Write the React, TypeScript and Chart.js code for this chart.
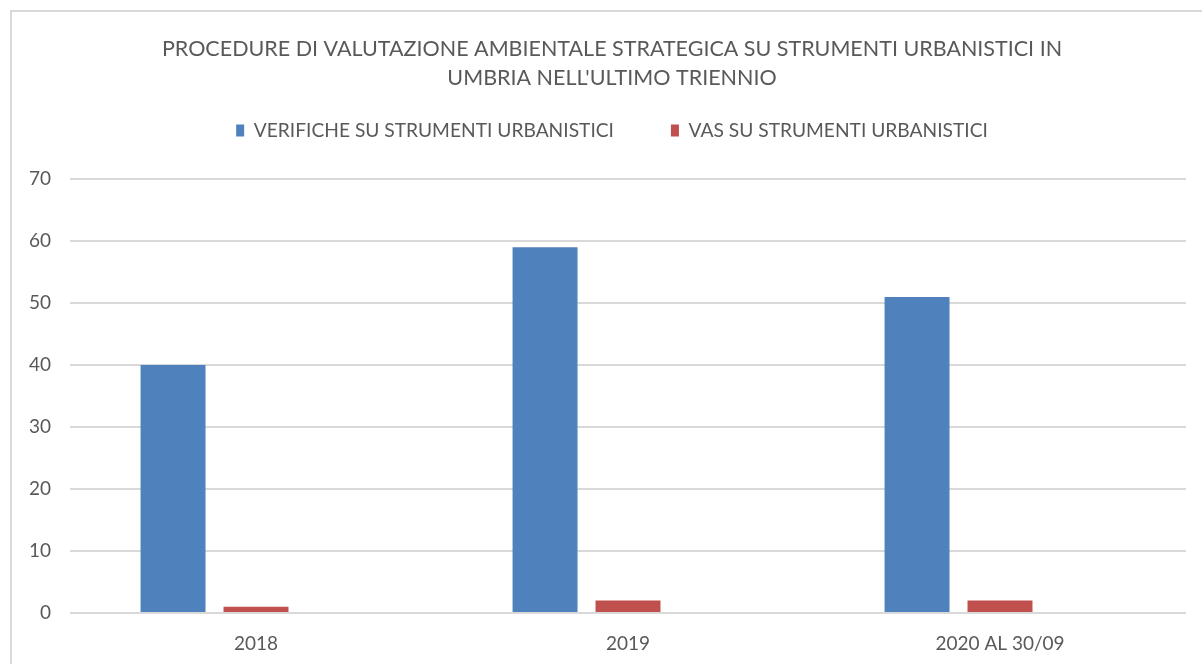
import React, { useEffect, useRef } from "react";
import { Chart, registerables } from "chart.js";

Chart.register(...registerables);

const titleLines = [
  "PROCEDURE DI VALUTAZIONE AMBIENTALE STRATEGICA SU STRUMENTI URBANISTICI IN",
  "UMBRIA NELL'ULTIMO TRIENNIO",
];
const categories = ["2018", "2019", "2020 AL 30/09"];
const seriesNames = ["VERIFICHE SU STRUMENTI URBANISTICI", "VAS SU STRUMENTI URBANISTICI"];
const verifiche = [40, 59, 51];
const vas = [1, 2, 2];
const emptySeries: (number | null)[] = [null, null, null];
const yMin = 0;
const yMax = 70;
const yStep = 10;

const TEXT = "#595959";
const GRID = "#d9d9d9";
const FONT = "Lato, 'Open Sans', sans-serif";

// lets the y tick labels extend into the left layout padding (no clipping)
const widenYLabelArea = {
  id: "widenYLabelArea",
  afterLayout(chart: any) {
    const y = chart.scales.y;
    if (y) y.left = 0;
  },
};

export default function App() {
  const ref = useRef<HTMLCanvasElement | null>(null);

  useEffect(() => {
    if (!ref.current) return;
    const chart = new Chart(ref.current, {
      type: "bar",
      data: {
        labels: categories,
        datasets: [
          {
            label: seriesNames[0],
            data: verifiche,
            backgroundColor: "#4f81bd",
            categoryPercentage: 0.669,
            barPercentage: 0.783,
          },
          {
            label: seriesNames[1],
            data: vas,
            backgroundColor: "#c0504d",
            categoryPercentage: 0.669,
            barPercentage: 0.783,
          },
          {
            label: "",
            data: emptySeries,
            backgroundColor: "rgba(0,0,0,0)",
            categoryPercentage: 0.669,
            barPercentage: 0.783,
          },
        ],
      },
      options: {
        responsive: false,
        animation: false,
        layout: { padding: { left: 38, right: 16, top: 0, bottom: 0 } },
        plugins: {
          tooltip: { enabled: false },
          title: {
            display: true,
            text: titleLines,
            color: TEXT,
            font: { family: FONT, size: 21.5, weight: "normal", lineHeight: "29px" },
            padding: { top: 35, bottom: -29 },
          },
          legend: {
            display: true,
            position: "top",
            labels: {
              filter: (item: any) => item.datasetIndex < 2,
              boxWidth: 8,
              boxHeight: 12,
              padding: 57,
              color: TEXT,
              font: { family: FONT, size: 19.2 },
            },
          },
          subtitle: {
            display: true,
            text: "",
            weight: 500,
            padding: 0,
            font: { size: 10, lineHeight: "29px" },
          } as any,
        },
        scales: {
          x: {
            grid: { display: false },
            border: { display: false },
            ticks: { color: TEXT, font: { family: FONT, size: 19 }, padding: 11 },
            afterFit: (s: any) => {
              s.height = 51;
            },
          },
          y: {
            min: yMin,
            max: yMax,
            ticks: { stepSize: yStep, color: TEXT, font: { family: FONT, size: 19 }, padding: 19 },
            grid: { color: GRID, lineWidth: 2, drawTicks: false },
            border: { display: false },
            afterFit: (s: any) => {
              s.width = 32;
            },
          },
        },
      },
      plugins: [widenYLabelArea],
    });
    return () => chart.destroy();
  }, []);

  return (
    <div style={{ position: "fixed", left: 0, top: 0, width: 1202, height: 664, background: "#fff" }}>
      <div
        style={{
          position: "absolute",
          left: 10,
          top: 10,
          width: 1192,
          height: 654,
          borderTop: `2px solid ${GRID}`,
          borderLeft: `2px solid ${GRID}`,
          boxSizing: "border-box",
        }}
      />
      <canvas ref={ref} width={1202} height={664} style={{ position: "absolute", left: 0, top: 0 }} />
    </div>
  );
}
